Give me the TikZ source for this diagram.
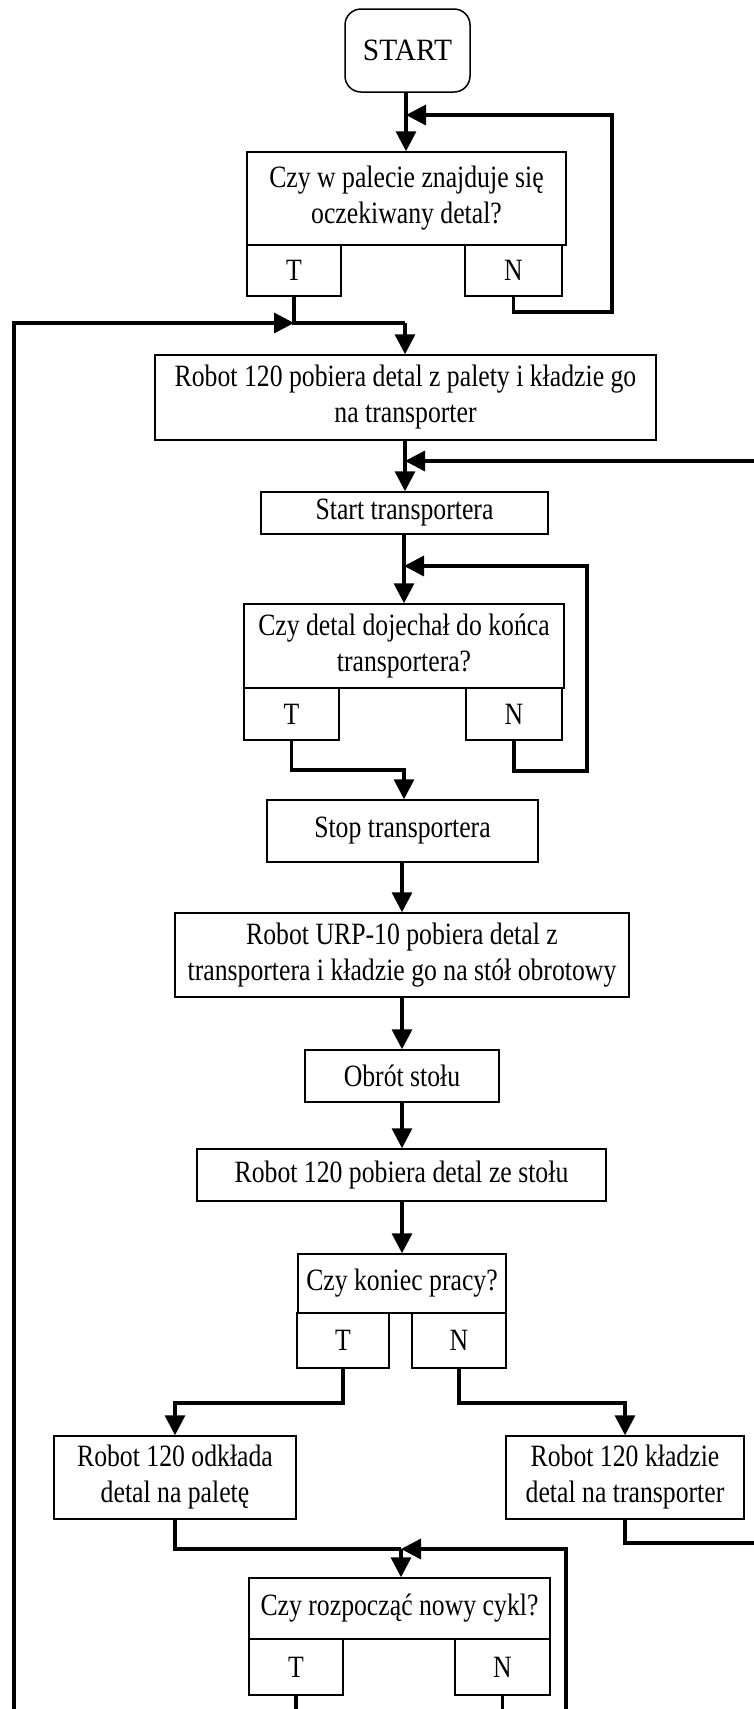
\documentclass[tikz,border=0pt]{standalone}
\usepackage{fontspec}
\setmainfont{Liberation Serif}
\newfontfamily\txtfont[FakeStretch=0.83]{Liberation Serif}
\newfontfamily\stfont[FakeStretch=0.95]{Liberation Serif}
\usetikzlibrary{arrows.meta}
\begin{document}
\begin{tikzpicture}[x=1pt,y=-1pt,
  box/.style={draw, line width=1.5pt, inner sep=0pt, align=center,
    font=\txtfont\fontsize{31}{36}\selectfont},
  ln/.style={line width=3.4pt, line join=miter},
  arr/.style={ln, -{Triangle[width=20pt,length=20pt]}}]
\fill[white] (0,0) rectangle (754,1709);
\useasboundingbox (0,0) rectangle (754,1709);
% nodes
\node[box, rounded corners=16pt, minimum width=125pt, minimum height=83pt,
  font=\stfont\fontsize{31}{36}\selectfont] (start) at (407.5,50.5) {START};
\node[box, minimum width=319pt, minimum height=93pt] (q1) at (406.5,198.5)
  {Czy w palecie znajduje się\\oczekiwany detal?};
\node[box, minimum width=94pt, minimum height=51pt] (q1T) at (294,270.5) {T};
\node[box, minimum width=97pt, minimum height=51pt] (q1N) at (513.5,270.5) {N};
\node[box, minimum width=501pt, minimum height=85pt] (b2) at (405.5,397.5)
  {Robot 120 pobiera detal z palety i kładzie go\\na transporter};
\node[box, minimum width=287pt, minimum height=42pt] (st) at (404.5,513) {Start transportera};
\node[box, minimum width=320pt, minimum height=84pt] (q2) at (404,646)
  {Czy detal dojechał do końca\\transportera?};
\node[box, minimum width=95pt, minimum height=52pt] (q2T) at (291.5,714) {T};
\node[box, minimum width=96pt, minimum height=52pt] (q2N) at (514,714) {N};
\node[box, minimum width=271pt, minimum height=62pt] (sp) at (402.5,831) {Stop transportera};
\node[box, minimum width=454pt, minimum height=84pt] (urp) at (402,955)
  {Robot URP-10 pobiera detal z\\transportera i kładzie go na stół obrotowy};
\node[box, minimum width=194pt, minimum height=52pt] (ob) at (402,1076) {Obrót stołu};
\node[box, minimum width=409pt, minimum height=52pt] (r120) at (401.5,1175)
  {Robot 120 pobiera detal ze stołu};
\node[box, minimum width=208pt, minimum height=59pt] (q3) at (402,1283.5) {Czy koniec pracy?};
\node[box, minimum width=92pt, minimum height=55pt] (q3T) at (343,1340.5) {T};
\node[box, minimum width=94pt, minimum height=55pt] (q3N) at (459,1340.5) {N};
\node[box, minimum width=242pt, minimum height=83pt] (lb) at (175,1477.5)
  {Robot 120 odkłada\\detal na paletę};
\node[box, minimum width=238pt, minimum height=83pt] (rb) at (625,1477.5)
  {Robot 120 kładzie\\detal na transporter};
\node[box, minimum width=301pt, minimum height=61pt] (q4) at (399.5,1608.5)
  {Czy rozpocząć nowy cykl?};
\node[box, minimum width=94pt, minimum height=56pt] (q4T) at (296,1667) {T};
\node[box, minimum width=95pt, minimum height=56pt] (q4N) at (502.5,1667) {N};
% coordinates
\coordinate (j1) at (406,115);
\coordinate (n1) at (612,312);
\coordinate (j2) at (294,323);
\coordinate (k2) at (405,323);
\coordinate (lb0) at (14,1709);
\coordinate (j3) at (405,461);
\coordinate (e1) at (754,461);
\coordinate (j4) at (404,566);
\coordinate (n2) at (587,771);
\coordinate (k4) at (404,770);
\coordinate (m) at (402,0);
\coordinate (t3) at (343,1403);
\coordinate (t4) at (459,1403);
\coordinate (e2) at (754,1543);
\coordinate (j5) at (401,1549);
\coordinate (rl0) at (566,1709);
\coordinate (q4Nb) at (502.5,1709);
\coordinate (q4Tb) at (296,1709);
% connectors
\draw[ln] (start.south -| j1) -- (j1);
\draw[arr] (j1) -- (j1 |- q1.north);
\draw[arr] (q1N.south) |- (n1) |- (j1);
\draw[ln] (q1T.south) -- (j2) -- (k2);
\draw[arr] (k2) -- (k2 |- b2.north);
\draw[arr] (lb0) |- (j2);
\draw[ln] (b2.south -| j3) -- (j3);
\draw[arr] (e1) -- (j3);
\draw[arr] (j3) -- (j3 |- st.north);
\draw[ln] (st.south -| j4) -- (j4);
\draw[arr] (j4) -- (j4 |- q2.north);
\draw[arr] (q2N.south) |- (n2) |- (j4);
\draw[arr] (q2T.south) |- (k4) -- (k4 |- sp.north);
\draw[arr] (sp.south -| m) -- (m |- urp.north);
\draw[arr] (urp.south -| m) -- (m |- ob.north);
\draw[arr] (ob.south -| m) -- (m |- r120.north);
\draw[arr] (r120.south -| m) -- (m |- q3.north);
\draw[arr] (q3T.south) -- (t3) -| (lb.north);
\draw[arr] (q3N.south) -- (t4) -| (rb.north);
\draw[ln] (rb.south) |- (e2);
\draw[ln] (lb.south) |- (j5);
\draw[arr] (j5) -- (j5 |- q4.north);
\draw[arr] (rl0) |- (j5);
\draw[ln] (q4N.south) -- (q4Nb);
\draw[ln] (q4T.south) -- (q4Tb);
\end{tikzpicture}
\end{document}
